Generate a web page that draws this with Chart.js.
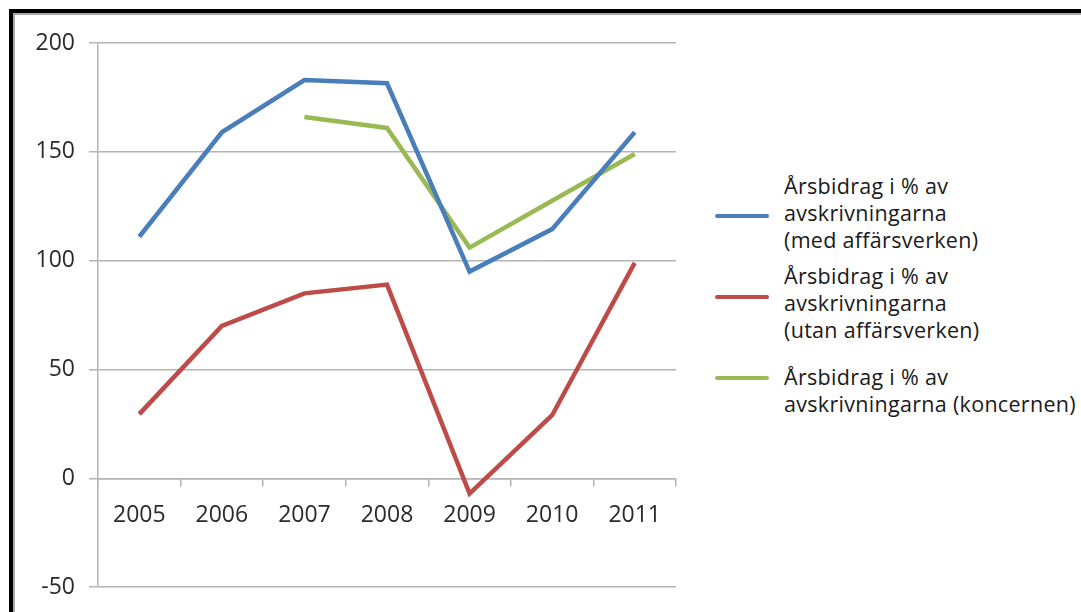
<!DOCTYPE html>
<html>
<head>
<meta charset="utf-8">
<script src="https://cdn.jsdelivr.net/npm/chart.js@4.4.1/dist/chart.umd.min.js"></script>
<style>
    body { margin: 0; background: #fff; width: 1081px; height: 612px; overflow: hidden; position: relative; font-family: "Open Sans", sans-serif; }
    .frame { position: absolute; left: 9px; top: 9px; width: 1200px; height: 700px; border: 4px solid #000; box-shadow: inset 2px 2px 0 #a8a8a8; }
    .chart-box { position: absolute; left: 15px; top: 15px; width: 685px; height: 600px; }
    .legend { position: absolute; left: 0; top: 0; color: #1a1a1a; font-size: 21.5px; letter-spacing: 0.3px; }
    .legend .swatch { position: absolute; left: 715px; width: 54px; height: 4px; border-radius: 2px; }
    .legend .txt { position: absolute; left: 784px; line-height: 27px; white-space: nowrap; }
</style>
</head>
<body>
<div class="frame"></div>
<div class="chart-box"><canvas id="chart"></canvas></div>
<div class="legend" id="legend"></div>

<script>
const years = ['2005', '2006', '2007', '2008', '2009', '2010', '2011'];
const medAffarsverken = [111, 159, 183, 181.5, 95, 114.5, 159];
const utanAffarsverken = [29.5, 70, 85, 89, -7, 29, 99];
const koncernen = [null, null, 166, 161, 106, 127.5, 149];
const seriesLabels = [
    ['Årsbidrag i % av', 'avskrivningarna', '(med affärsverken)'],
    ['Årsbidrag i % av', 'avskrivningarna', '(utan affärsverken)'],
    ['Årsbidrag i % av', 'avskrivningarna (koncernen)']
];
const colors = ['#4a7ebb', '#be4b48', '#98b954'];
const yTicks = [-50, 0, 50, 100, 150, 200];

// legend drawn in html next to the chart
const legendLayout = [
    { swatchY: 216, textTop: 172 },
    { swatchY: 297, textTop: 262 },
    { swatchY: 378, textTop: 363 }
];
const legend = document.getElementById('legend');
seriesLabels.forEach((lines, i) => {
    const sw = document.createElement('div');
    sw.className = 'swatch';
    sw.style.top = (legendLayout[i].swatchY - 2) + 'px';
    sw.style.background = colors[i];
    legend.appendChild(sw);
    const t = document.createElement('div');
    t.className = 'txt';
    t.style.top = legendLayout[i].textTop + 'px';
    t.innerHTML = lines.join('<br>');
    legend.appendChild(t);
});

const gridGray = '#b4b4b4';
const tickFont = { family: '"Open Sans", sans-serif', size: 23 };

new Chart(document.getElementById('chart'), {
    type: 'line',
    data: {
        labels: years,
        datasets: [
            { label: seriesLabels[0].join(' '), data: medAffarsverken, borderColor: colors[0] },
            { label: seriesLabels[1].join(' '), data: utanAffarsverken, borderColor: colors[1] },
            { label: seriesLabels[2].join(' '), data: koncernen, borderColor: colors[2] }
        ].map(d => Object.assign(d, { borderWidth: 4.5, pointRadius: 0, tension: 0, fill: false, spanGaps: false }))
    },
    options: {
        responsive: true,
        maintainAspectRatio: false,
        animation: false,
        layout: { padding: { top: 28, right: 24, bottom: 15, left: 0 } },
        plugins: { legend: { display: false }, tooltip: { enabled: false } },
        scales: {
            x: {
                position: { y: 0 },
                offset: true,
                grid: { offset: true, drawOnChartArea: false, drawTicks: true, tickLength: 7, color: gridGray, lineWidth: 1.5 },
                border: { color: gridGray, width: 1.5 },
                ticks: { color: '#2a2a2a', font: tickFont, padding: 16, maxRotation: 0 }
            },
            y: {
                min: -50,
                max: 200,
                afterBuildTicks: (scale) => { scale.ticks = yTicks.map(v => ({ value: v })); },
                afterFit: (scale) => { scale.width = 83; },
                grid: { color: gridGray, lineWidth: 1.5, tickLength: 9 },
                border: { color: gridGray, width: 1.5 },
                ticks: { color: '#2a2a2a', font: tickFont, padding: 14 }
            }
        }
    }
});
</script>
</body>
</html>
